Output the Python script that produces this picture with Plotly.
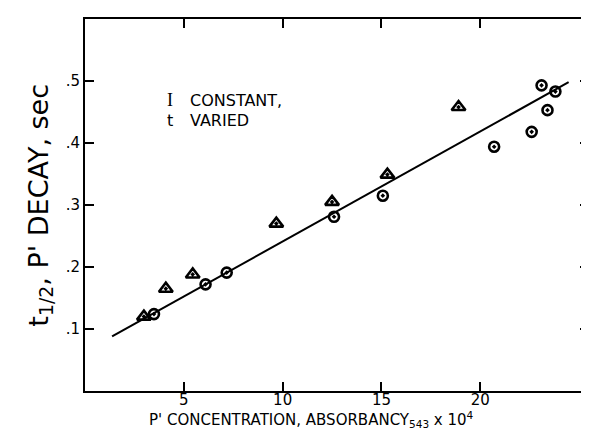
import plotly.graph_objects as go

# Data
tri_x = [2.98, 4.09, 5.45, 9.68, 12.5, 15.3, 18.9]
tri_y = [0.120, 0.165, 0.188, 0.270, 0.305, 0.349, 0.458]

circ_x = [3.49, 6.1, 7.17, 12.6, 15.07, 20.7, 22.6, 23.1, 23.4, 23.8]
circ_y = [0.124, 0.172, 0.191, 0.281, 0.315, 0.394, 0.418, 0.493, 0.453, 0.483]

fit_x = [1.37, 24.47]
fit_y = [0.088, 0.498]

x_ticks = [5, 10, 15, 20]
x_tick_text = ["5", "10", "15", "20"]
y_ticks = [0.1, 0.2, 0.3, 0.4, 0.5]
y_tick_text = [".1", ".2", ".3", ".4", ".5"]

FONT = "DejaVu Sans, Liberation Sans, sans-serif"

fig = go.Figure()
fig.add_trace(go.Scatter(x=fit_x, y=fit_y, mode="lines",
                         line=dict(color="black", width=2), showlegend=False,
                         hoverinfo="skip"))
fig.add_trace(go.Scatter(x=tri_x, y=tri_y, mode="markers",
                         marker=dict(symbol="triangle-up-open-dot", size=12,
                                     color="black", line=dict(width=2.6, color="black")),
                         showlegend=False))
fig.add_trace(go.Scatter(x=circ_x, y=circ_y, mode="markers",
                         marker=dict(symbol="circle-open-dot", size=10,
                                     color="black", line=dict(width=2.6, color="black")),
                         showlegend=False))

axis_common = dict(showline=True, linecolor="black", linewidth=2, mirror="ticks",
                   ticks="inside", ticklen=9, tickwidth=2, tickcolor="black",
                   showgrid=False, zeroline=False,
                   tickfont=dict(family=FONT, size=15, color="black"))

fig.update_xaxes(range=[0, 25.5], tickmode="array", tickvals=x_ticks,
                 ticktext=x_tick_text, ticklabelstandoff=-6, **axis_common)
fig.update_yaxes(range=[0, 0.6], tickmode="array", tickvals=y_ticks,
                 ticktext=y_tick_text, **axis_common)

annotations = [
    dict(text="t<sub>1/2</sub>, P' DECAY, sec", xref="paper", yref="paper",
         x=-0.09, y=0.5, textangle=-90, showarrow=False,
         xanchor="center", yanchor="middle",
         font=dict(family=FONT, size=27, color="black")),
    dict(text="P' CONCENTRATION, ABSORBANCY<sub>543</sub> x 10<sup>4</sup>",
         xref="paper", yref="paper", x=0.45, y=-0.077, showarrow=False,
         xanchor="center", yanchor="middle",
         font=dict(family=FONT, size=15, color="black")),
    dict(text="I", xref="paper", yref="paper", x=0.168, y=0.782, showarrow=False,
         xanchor="center", yanchor="middle",
         font=dict(family="Liberation Serif, serif", size=18, color="black")),
    dict(text="CONSTANT,", xref="paper", yref="paper", x=0.205, y=0.782,
         showarrow=False, xanchor="left", yanchor="middle",
         font=dict(family=FONT, size=16, color="black")),
    dict(text="t", xref="paper", yref="paper", x=0.168, y=0.728, showarrow=False,
         xanchor="center", yanchor="middle",
         font=dict(family=FONT, size=16, color="black")),
    dict(text="VARIED", xref="paper", yref="paper", x=0.205, y=0.728,
         showarrow=False, xanchor="left", yanchor="middle",
         font=dict(family=FONT, size=16, color="black")),
]

fig.update_layout(width=589, height=432,
                  margin=dict(l=77, r=6, t=11, b=49),
                  plot_bgcolor="white", paper_bgcolor="white",
                  annotations=annotations, showlegend=False)

fig.write_html("out.html")
